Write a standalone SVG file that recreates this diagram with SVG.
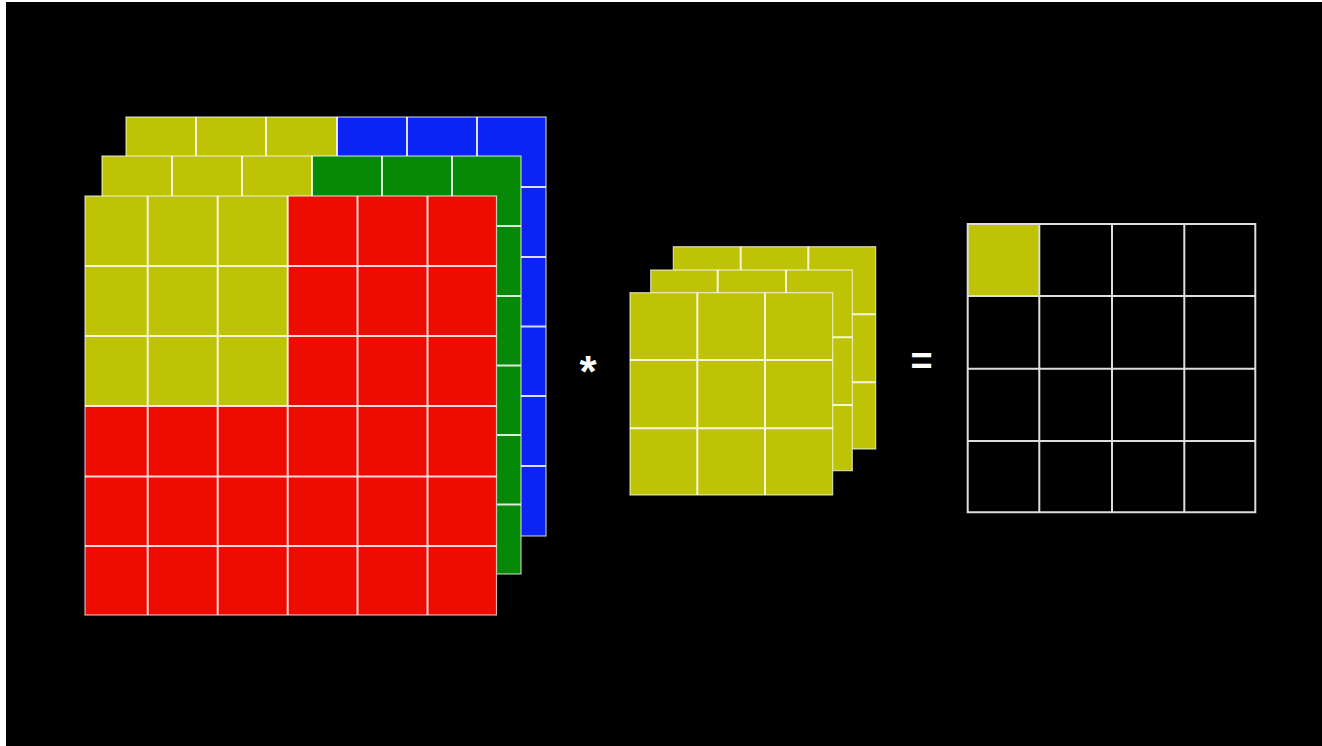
<svg xmlns="http://www.w3.org/2000/svg" width="1322" height="746" viewBox="0 0 1322 746">
<style>
.yel{fill:#BEC306}
.red{fill:#EE0B02}
.grn{fill:#068906}
.blu{fill:#0B24F3}
.grid{fill:none;stroke:#FFFFFF;stroke-opacity:0.85;stroke-width:2}
.edge{fill:none;stroke:#FFFFFF;stroke-opacity:0.7;stroke-width:1.2}
.ogrid{fill:none;stroke:#DDDDDD;stroke-width:2}
.op{fill:#FFFFFF;font-family:"Liberation Sans",Arial,sans-serif;font-weight:bold;text-anchor:middle}
</style>
<rect x="0" y="0" width="1322" height="746" fill="#FFFFFF"/>
<rect x="6" y="2" width="1316" height="744" fill="#000000"/>

<g id="input-blue">
<rect class="blu" x="126" y="117" width="420" height="419"/>
<rect class="yel" x="126" y="117" width="211" height="209.5"/>
<path class="grid" d="M196 117V536M266 117V536M337 117V536M407 117V536M477 117V536M126 187H546M126 257H546M126 326.5H546M126 396H546M126 466H546"/>
<rect class="edge" x="126" y="117" width="420" height="419"/>
</g>

<g id="input-green">
<rect class="grn" x="102" y="156" width="419" height="418"/>
<rect class="yel" x="102" y="156" width="210" height="209.5"/>
<path class="grid" d="M172 156V574M242 156V574M312 156V574M382 156V574M452 156V574M102 226H521M102 296H521M102 365.5H521M102 435H521M102 504.5H521"/>
<rect class="edge" x="102" y="156" width="419" height="418"/>
</g>

<g id="input-red">
<rect class="red" x="85" y="196" width="411.5" height="419"/>
<rect class="yel" x="85" y="196" width="202.7" height="210"/>
<path class="grid" d="M147.7 196V615M217.7 196V615M287.7 196V615M357.5 196V615M427.5 196V615M85 266H496.5M85 336H496.5M85 406H496.5M85 476.5H496.5M85 546H496.5"/>
<rect class="edge" x="85" y="196" width="411.5" height="419"/>
</g>

<g id="operator-conv">
<text class="op" x="588" y="387" font-size="44">*</text>
</g>

<g id="kernel-back">
<rect class="yel" x="673.3" y="246.7" width="202.4" height="202.3"/>
<path class="grid" d="M740.7 246.7V449M808.3 246.7V449M673.3 314.3H875.7M673.3 382.3H875.7"/>
<rect class="edge" x="673.3" y="246.7" width="202.4" height="202.3"/>
</g>

<g id="kernel-mid">
<rect class="yel" x="650.7" y="270" width="201.6" height="200.7"/>
<path class="grid" d="M717.7 270V470.7M786 270V470.7M650.7 337.3H852.3M650.7 405H852.3"/>
<rect class="edge" x="650.7" y="270" width="201.6" height="200.7"/>
</g>

<g id="kernel-front">
<rect class="yel" x="630" y="292.7" width="202.7" height="202.3"/>
<path class="grid" d="M697.3 292.7V495M765 292.7V495M630 360H832.7M630 428.3H832.7"/>
<rect class="edge" x="630" y="292.7" width="202.7" height="202.3"/>
</g>

<g id="operator-eq">
<text class="op" x="921.7" y="374" font-size="38">=</text>
</g>

<g id="output">
<rect class="yel" x="967.7" y="224" width="71.6" height="72"/>
<path class="ogrid" d="M967.7 224H1255.3V512.3H967.7Z M1039.3 224V512.3M1112 224V512.3M1184.3 224V512.3M967.7 296H1255.3M967.7 368.7H1255.3M967.7 441H1255.3"/>
</g>

<g id="connectors"/>
</svg>
